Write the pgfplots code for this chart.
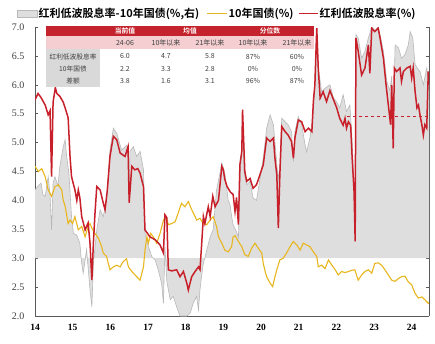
\documentclass[border=0pt]{standalone}
\usepackage{fontspec}
\setmainfont{Liberation Serif}
\newfontfamily\cjk{Noto Sans CJK SC}[BoldFont={Noto Sans CJK SC Bold}]
\usepackage{pgfplots}
\usepackage{pgfplotstable}
\pgfplotsset{compat=1.18}
\usepgfplotslibrary{fillbetween}
\definecolor{redline}{RGB}{200,32,42}
\definecolor{yelline}{RGB}{232,182,30}
\definecolor{graybg}{RGB}{222,222,222}
\definecolor{grayln}{RGB}{185,185,185}
\definecolor{tabred}{RGB}{196,35,45}
\definecolor{tabpink}{RGB}{244,206,208}
\definecolor{tabgray}{RGB}{217,217,217}
\definecolor{txtgray}{RGB}{64,64,64}

\pgfplotstableread{
x y
14.00 5.74
14.08 5.85
14.16 5.78
14.27 5.65
14.35 5.48
14.40 5.55
14.44 4.41
14.48 5.70
14.54 5.95
14.58 5.85
14.66 5.80
14.75 5.70
14.80 5.60
14.88 5.43
14.93 4.76
14.97 4.41
15.06 4.18
15.11 4.00
15.15 4.18
15.19 4.05
15.24 3.72
15.33 3.49
15.41 3.61
15.46 3.26
15.51 2.62
15.55 3.26
15.59 3.75
15.64 4.24
15.73 4.18
15.77 4.07
15.81 3.96
15.86 3.84
15.92 4.18
15.99 4.76
16.08 5.11
16.17 5.05
16.26 4.82
16.39 4.76
16.47 4.93
16.50 3.96
16.57 4.59
16.65 4.53
16.73 4.55
16.79 4.47
16.88 4.24
16.92 3.49
17.05 3.37
17.19 3.32
17.32 3.23
17.41 3.09
17.45 3.75
17.50 3.70
17.54 2.80
17.63 2.78
17.76 2.80
17.85 2.68
17.94 2.77
18.03 2.57
18.07 2.45
18.16 2.68
18.25 2.77
18.34 2.85
18.38 2.80
18.42 3.20
18.47 3.72
18.51 3.60
18.60 3.89
18.65 3.72
18.72 4.07
18.78 3.89
18.87 4.00
18.96 4.59
19.00 4.53
19.04 4.36
19.10 4.24
19.18 4.15
19.26 4.10
19.31 3.81
19.35 4.05
19.40 3.58
19.44 4.62
19.49 4.85
19.51 5.57
19.55 4.85
19.57 4.50
19.62 4.33
19.71 4.38
19.79 4.21
19.88 4.27
19.97 4.44
20.06 4.62
20.15 5.08
20.24 5.02
20.33 5.08
20.37 4.73
20.42 4.44
20.46 3.52
20.50 4.44
20.55 5.28
20.64 5.19
20.72 5.13
20.81 5.02
20.86 4.73
20.90 5.08
20.99 5.39
21.08 5.36
21.17 5.19
21.26 5.25
21.35 5.19
21.39 5.71
21.43 6.00
21.48 6.98
21.52 6.29
21.57 5.77
21.65 5.88
21.74 5.71
21.83 5.90
21.92 5.75
22.01 5.60
22.09 5.42
22.18 5.30
22.23 5.42
22.27 5.25
22.32 5.36
22.38 5.30
22.42 4.73
22.47 4.15
22.50 3.29
22.52 6.81
22.58 6.58
22.67 6.17
22.76 6.29
22.85 6.69
22.89 6.20
22.94 6.98
23.02 6.92
23.11 6.98
23.16 6.81
23.25 6.46
23.32 6.00
23.38 5.65
23.44 5.31
23.47 6.00
23.51 4.90
23.54 6.29
23.60 6.23
23.69 6.29
23.73 6.06
23.78 6.23
23.87 6.29
23.96 6.32
24.00 6.12
24.04 6.29
24.09 5.89
24.14 5.60
24.18 5.65
24.22 5.48
24.27 5.31
24.31 5.13
24.35 5.31
24.40 5.25
24.44 6.23
24.46 6.00
}\divyield

\pgfplotstableread{
x y
14.00 4.18
14.08 4.25
14.16 4.30
14.21 4.10
14.27 4.07
14.35 4.41
14.40 4.10
14.44 3.49
14.48 4.30
14.53 4.41
14.61 4.25
14.66 4.59
14.75 4.93
14.80 5.05
14.84 4.76
14.90 4.47
14.97 3.72
15.02 3.43
15.11 3.40
15.19 3.26
15.24 2.91
15.28 2.74
15.37 3.15
15.46 2.45
15.51 2.16
15.55 2.91
15.64 3.49
15.73 3.84
15.81 3.72
15.90 3.99
15.99 4.87
16.08 5.25
16.17 5.16
16.30 4.87
16.43 4.95
16.47 4.90
16.50 4.00
16.52 4.85
16.61 4.93
16.70 4.76
16.79 4.85
16.88 4.53
16.92 3.43
17.01 3.20
17.10 3.03
17.19 2.97
17.27 2.80
17.36 2.57
17.41 2.22
17.45 3.20
17.50 2.60
17.59 2.28
17.67 2.34
17.76 2.16
17.85 2.00
18.03 2.00
18.12 2.05
18.20 2.22
18.29 2.34
18.34 2.10
18.38 2.45
18.42 2.68
18.47 2.91
18.56 3.14
18.65 3.37
18.73 3.49
18.82 4.18
18.91 4.47
18.96 4.65
19.04 4.47
19.13 4.00
19.18 3.92
19.22 3.72
19.26 3.58
19.35 3.46
19.40 3.35
19.44 4.30
19.51 5.20
19.55 4.50
19.62 4.27
19.71 4.33
19.79 4.04
19.88 4.00
19.97 4.36
20.06 4.73
20.15 5.25
20.24 5.48
20.33 5.31
20.42 4.62
20.46 4.36
20.50 4.62
20.55 5.42
20.64 5.36
20.72 5.31
20.81 5.19
20.86 4.67
20.90 5.19
20.99 5.45
21.08 5.31
21.17 4.96
21.21 4.84
21.30 5.08
21.39 5.54
21.43 6.10
21.48 6.98
21.52 6.30
21.61 5.88
21.70 5.94
21.83 6.00
21.92 5.78
22.01 5.70
22.09 5.60
22.18 5.83
22.27 5.54
22.36 5.65
22.42 5.02
22.47 4.27
22.50 3.35
22.52 6.87
22.58 6.81
22.67 6.46
22.76 6.58
22.85 6.81
22.94 7.00
23.02 6.94
23.11 7.00
23.16 6.87
23.25 6.58
23.34 6.06
23.42 5.90
23.47 6.15
23.51 5.37
23.56 6.69
23.65 6.64
23.73 6.46
23.82 6.52
23.91 6.69
23.96 6.92
24.03 6.81
24.09 6.35
24.15 6.29
24.22 6.23
24.31 6.00
24.40 6.29
24.46 6.00
}\spread

\pgfplotstableread{
x y
14.00 4.59
14.09 4.50
14.18 4.55
14.27 4.41
14.35 4.18
14.44 4.07
14.53 4.24
14.62 4.27
14.71 4.18
14.75 4.00
14.80 3.90
14.88 3.60
14.93 3.66
15.00 3.60
15.06 3.72
15.15 3.49
15.24 3.55
15.33 3.37
15.41 3.55
15.46 3.60
15.51 3.52
15.59 3.43
15.68 3.35
15.77 3.20
15.81 3.09
15.90 3.03
15.99 2.80
16.08 2.85
16.17 2.88
16.26 2.85
16.34 2.94
16.43 2.99
16.48 2.85
16.57 2.77
16.70 2.68
16.79 2.62
16.88 2.85
16.92 3.14
16.97 3.37
17.01 3.26
17.07 3.43
17.14 3.37
17.23 3.26
17.32 3.43
17.41 3.66
17.48 3.72
17.54 3.58
17.63 3.60
17.72 3.63
17.80 3.78
17.89 3.95
17.98 3.89
18.07 3.98
18.16 3.84
18.25 3.72
18.29 3.66
18.38 3.69
18.47 3.60
18.56 3.58
18.65 3.66
18.73 3.72
18.82 3.55
18.87 3.37
18.96 3.26
19.04 3.14
19.13 3.11
19.22 3.20
19.26 3.37
19.31 3.39
19.40 3.29
19.49 3.20
19.57 3.06
19.66 3.03
19.75 3.17
19.84 3.26
19.93 3.17
20.02 3.09
20.06 2.91
20.11 2.77
20.15 2.68
20.24 2.57
20.31 2.51
20.37 2.68
20.42 2.80
20.50 2.97
20.59 3.00
20.68 3.09
20.77 3.20
20.86 3.29
20.95 3.23
21.04 3.14
21.12 3.26
21.21 3.23
21.30 3.20
21.39 3.11
21.48 3.03
21.52 2.85
21.61 2.88
21.70 2.82
21.79 2.97
21.88 2.88
21.97 2.80
22.05 2.71
22.14 2.77
22.23 2.75
22.32 2.77
22.41 2.79
22.49 2.80
22.58 2.62
22.67 2.71
22.76 2.77
22.85 2.80
22.94 2.74
23.02 2.91
23.11 2.92
23.20 2.88
23.29 2.80
23.38 2.71
23.47 2.62
23.56 2.60
23.65 2.65
23.73 2.68
23.82 2.69
23.91 2.59
24.00 2.54
24.09 2.39
24.18 2.31
24.27 2.33
24.35 2.28
24.44 2.22
24.46 2.24
}\bond

\begin{document}
\begin{tikzpicture}
\begin{axis}[
  at={(35pt,27pt)}, anchor=south west,
  scale only axis, width=394pt, height=289pt,
  xmin=14, xmax=24.46, ymin=2, ymax=7,
  axis x line*=bottom, axis y line*=box,
  axis line style={draw=gray!70!black, line width=0.6pt},
  xtick={14,15,16,17,18,19,20,21,22,23,24},
  xticklabels={14,15,16,17,18,19,20,21,22,23,24},
  xtick style={draw=none},
  ytick={2,2.5,3,3.5,4,4.5,5,5.5,6,6.5,7},
  ytick pos=both, tick align=inside,
  major tick length=3pt,
  ytick style={draw=gray!70!black, line width=0.5pt},
  yticklabel pos=left,
  /pgf/number format/assume math mode=true,
  yticklabel style={/pgf/number format/.cd, fixed, fixed zerofill, precision=1, /tikz/.cd,
    font=\fontsize{10}{12}\selectfont, text=txtgray, xshift=-7pt},
  xticklabel style={font=\fontsize{9.5}{11}\selectfont\bfseries, text=black, yshift=-5pt},
  clip=true,
]
\addplot[name path=spr, draw=none, forget plot] table[x=x,y=y] {\spread};
\addplot[name path=base, draw=none, forget plot] coordinates {(14,3) (24.46,3)};
\addplot[fill=graybg, draw=none, forget plot] fill between[of=spr and base];
\addplot[draw=grayln, line width=0.6pt, forget plot] table[x=x,y=y] {\spread};
\addplot[draw=redline, dashed, line width=0.5pt, forget plot] coordinates {(22.28,5.45) (24.46,5.45)};
\addplot[draw=yelline, line width=1.1pt, forget plot] table[x=x,y=y] {\bond};
\addplot[draw=redline, line width=1.5pt, forget plot] table[x=x,y=y] {\divyield};
\end{axis}

\begin{scope}[x=1pt,y=1pt]
\path (0,0) rectangle (435,343);
% legend
\filldraw[fill=graybg, draw=grayln, line width=0.5pt] (17,326) rectangle (37,333);
\node[anchor=west, inner sep=0pt] at (38.5,329.5) {\cjk\bfseries\fontsize{11}{13}\selectfont 红利低波股息率-10年国债(\%,右)};
\draw[yelline, line width=1.4pt] (207,329.5) -- (227,329.5);
\node[anchor=west, inner sep=0pt] at (228.5,329.5) {\cjk\bfseries\fontsize{11}{13}\selectfont 10年国债(\%)};
\draw[redline, line width=1.6pt] (299,329.5) -- (318,329.5);
\node[anchor=west, inner sep=0pt] at (319.5,329.5) {\cjk\bfseries\fontsize{11}{13}\selectfont 红利低波股息率(\%)};

% table
\fill[tabred] (46,317) rectangle (314,306.5);
\fill[tabpink] (46,306.5) rectangle (314,294);
\fill[tabgray] (46,294) rectangle (100,255.5);
\fill[white] (100,294) rectangle (314,255.5);
\begin{scope}[every node/.style={inner sep=0pt, font=\cjk\fontsize{7}{8}\selectfont, text=txtgray}]
\node[text=white, font=\cjk\bfseries\fontsize{6.8}{8}\selectfont] at (125,311.7) {当前值};
\node[text=white, font=\cjk\bfseries\fontsize{6.8}{8}\selectfont] at (190,311.7) {均值};
\node[text=white, font=\cjk\bfseries\fontsize{6.8}{8}\selectfont] at (270,311.7) {分位数};
\node at (125,300.2) {24-06};
\node at (166,300.2) {10年以来};
\node at (210,300.2) {21年以来};
\node at (253,300.2) {10年以来};
\node at (297,300.2) {21年以来};
\node[font=\cjk\fontsize{6.7}{8}\selectfont] at (73,286.5) {红利低波股息率};
\node[font=\cjk\fontsize{6.7}{8}\selectfont] at (73,274) {10年国债};
\node[font=\cjk\fontsize{6.7}{8}\selectfont] at (73,261.8) {差额};
\node at (125,286.5) {6.0};
\node at (166,286.5) {4.7};
\node at (210,286.5) {5.8};
\node at (253,286.5) {87\%};
\node at (297,286.5) {60\%};
\node at (125,274) {2.2};
\node at (166,274) {3.3};
\node at (210,274) {2.8};
\node at (253,274) {0\%};
\node at (297,274) {0\%};
\node at (125,261.8) {3.8};
\node at (166,261.8) {1.6};
\node at (210,261.8) {3.1};
\node at (253,261.8) {96\%};
\node at (297,261.8) {87\%};
\end{scope}
\end{scope}
\end{tikzpicture}
\end{document}
